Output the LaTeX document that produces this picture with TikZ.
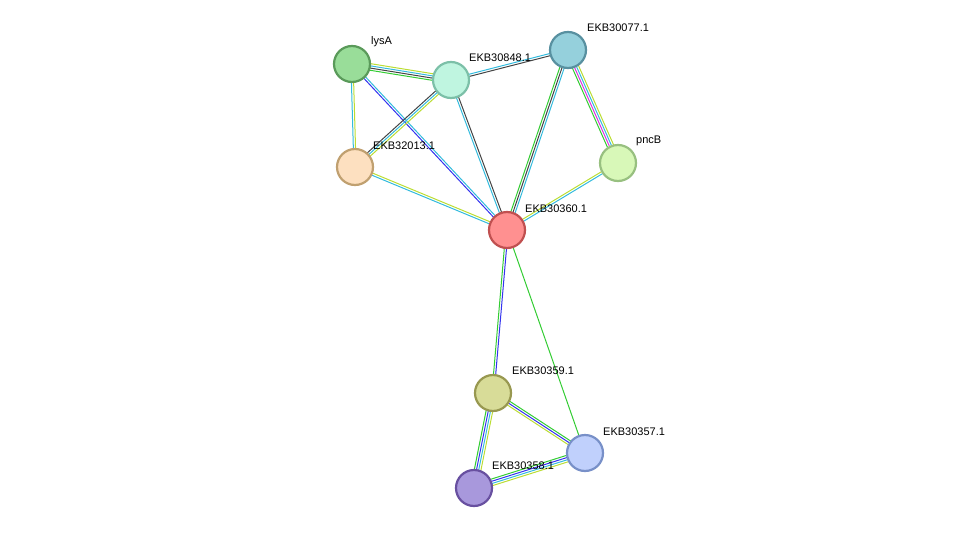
\documentclass[tikz,border=0pt]{standalone}
\usepackage{fontspec}
\setmainfont{Liberation Sans}
\usetikzlibrary{calc}
\definecolor{eG}{HTML}{33CC33}\definecolor{eK}{HTML}{444444}\definecolor{eC}{HTML}{33BBDD}
\definecolor{eY}{HTML}{BBDD33}\definecolor{eB}{HTML}{3333EE}\definecolor{eM}{HTML}{DD33DD}
\tikzset{prot/.style={circle,minimum size=36pt,inner sep=0pt,line width=2.2pt},
 lab/.style={anchor=west,inner sep=0pt,font=\fontsize{11}{13}\selectfont}}
\newcommand{\medge}[3]{%
 \foreach \c [count=\i] in {#3} {\xdef\nn{\i}}%
 \foreach \c [count=\i] in {#3} {%
  \pgfmathsetmacro{\off}{(\i-(\nn+1)/2)*2.2}%
  \draw[draw=\c,line width=1pt] ($(#1)!\off pt!90:(#2)$) -- ($(#2)!\off pt!-90:(#1)$);}}
\begin{document}
\begin{tikzpicture}[x=1pt,y=-1pt]
\useasboundingbox (0,0) rectangle (975,533);
\coordinate (lysA) at (352,64);
\coordinate (a848) at (451,80);
\coordinate (a077) at (568,50);
\coordinate (a013) at (355,167);
\coordinate (pncB) at (618,163);
\coordinate (a360) at (507,230);
\coordinate (a359) at (493,393);
\coordinate (a357) at (585,453);
\coordinate (a358) at (474,488);
\medge{lysA}{a848}{eG,eK,eC,eY}
\medge{lysA}{a013}{eC,eY}
\medge{lysA}{a360}{eB,eC}
\medge{a848}{a013}{eK,eC,eY}
\medge{a848}{a077}{eK,eC}
\medge{a848}{a360}{eC,eK}
\medge{a077}{a360}{eG,eK,eC}
\medge{a077}{pncB}{eG,eM,eC,eY}
\medge{a013}{a360}{eC,eY}
\medge{pncB}{a360}{eY,eC}
\medge{a360}{a359}{eG,eB}
\medge{a360}{a357}{eG}
\medge{a359}{a358}{eG,eB,eC,eY}
\medge{a359}{a357}{eY,eB,eG}
\medge{a358}{a357}{eY,eC,eB,eG}
\node[prot,fill={rgb,255:red,153;green,221;blue,153},draw={rgb,255:red,90;green,154;blue,90}] (nlysA) at (lysA) {};
\node[prot,fill={rgb,255:red,191;green,245;blue,224},draw={rgb,255:red,124;green,192;blue,168}] (n848) at (a848) {};
\node[prot,fill={rgb,255:red,149;green,208;blue,220},draw={rgb,255:red,88;green,144;blue,160}] (n077) at (a077) {};
\node[prot,fill={rgb,255:red,253;green,224;blue,192},draw={rgb,255:red,192;green,160;blue,112}] (n013) at (a013) {};
\node[prot,fill={rgb,255:red,216;green,248;blue,184},draw={rgb,255:red,152;green,192;blue,128}] (npncB) at (pncB) {};
\node[prot,fill={rgb,255:red,255;green,144;blue,144},draw={rgb,255:red,192;green,80;blue,80}] (n360) at (a360) {};
\node[prot,fill={rgb,255:red,216;green,220;blue,152},draw={rgb,255:red,152;green,152;blue,80}] (n359) at (a359) {};
\node[prot,fill={rgb,255:red,192;green,208;blue,252},draw={rgb,255:red,120;green,144;blue,200}] (n357) at (a357) {};
\node[prot,fill={rgb,255:red,168;green,152;blue,220},draw={rgb,255:red,104;green,80;blue,160}] (n358) at (a358) {};
\node[lab] (llysA) at ($(lysA)+(19,-22)$) {lysA};
\node[lab] (l848) at ($(a848)+(18,-22)$) {EKB30848.1};
\node[lab] (l077) at ($(a077)+(19,-22)$) {EKB30077.1};
\node[lab] (l013) at ($(a013)+(18,-21)$) {EKB32013.1};
\node[lab] (lpncB) at ($(pncB)+(18,-22)$) {pncB};
\node[lab] (l360) at ($(a360)+(18,-21)$) {EKB30360.1};
\node[lab] (l359) at ($(a359)+(19,-22)$) {EKB30359.1};
\node[lab] (l357) at ($(a357)+(18,-21)$) {EKB30357.1};
\node[lab] (l358) at ($(a358)+(18,-22)$) {EKB30358.1};
\end{tikzpicture}
\end{document}
